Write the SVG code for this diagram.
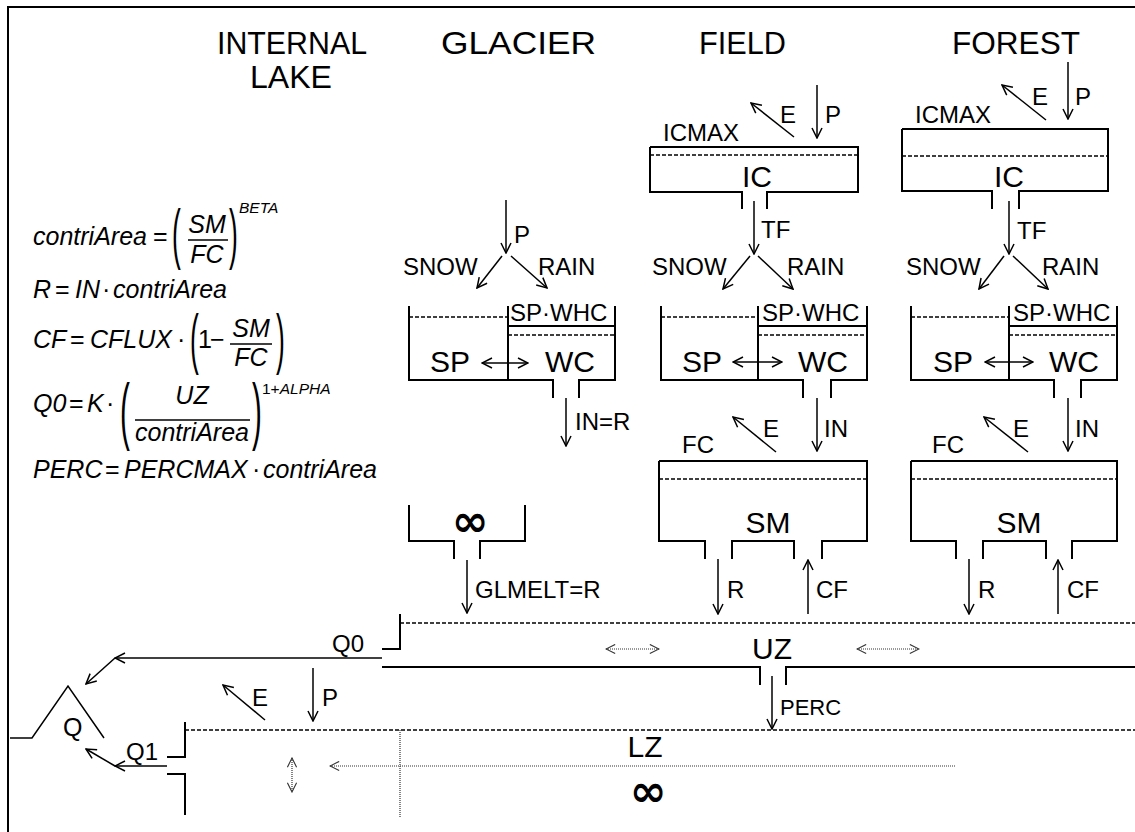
<svg xmlns="http://www.w3.org/2000/svg" width="1135" height="832" viewBox="0 0 1135 832">
<style>
text{font-family:"Liberation Sans",Arial,sans-serif;fill:#000}
.t{font-size:32px}
.l{font-size:24px}
.b{font-size:30px}
.f{font-size:25px}
.i{font-style:italic}
.s{font-size:15.5px}
.bx{stroke:#000;stroke-width:2;fill:none}
.ds{stroke:#000;stroke-width:1.5;stroke-dasharray:4,2;fill:none}
.ln{stroke:#000;stroke-width:1.5;fill:none}
.ar{stroke:#000;stroke-width:1.5;fill:none;marker-end:url(#ah)}
.da{stroke:#000;stroke-width:1.5;fill:none;marker-start:url(#ah);marker-end:url(#ah)}
.dot{stroke:#333;stroke-width:1.2;stroke-dasharray:1,1;fill:none}
.dota{stroke:#333;stroke-width:1.2;stroke-dasharray:1,1;fill:none;marker-end:url(#ahd)}
.dotb{stroke:#333;stroke-width:1.2;stroke-dasharray:1,1;fill:none;marker-start:url(#ahd);marker-end:url(#ahd)}
.inf{font-family:"DejaVu Sans",sans-serif;font-weight:bold;font-size:44px}
</style>
<defs>
<marker id="ah" viewBox="0 0 12 12" refX="11" refY="6" markerWidth="12" markerHeight="12" markerUnits="userSpaceOnUse" orient="auto-start-reverse"><path d="M1,1 L11,6 L1,11" fill="none" stroke="#000" stroke-width="1.5"/></marker>
<marker id="ahd" viewBox="0 0 12 12" refX="11" refY="6" markerWidth="11" markerHeight="11" markerUnits="userSpaceOnUse" orient="auto-start-reverse"><path d="M1,1 L11,6 L1,11" fill="none" stroke="#333" stroke-width="1.2"/></marker>
</defs>
<rect width="1135" height="832" fill="#fff"/>
<path d="M8,832 V7 H1135" stroke="#000" stroke-width="2" fill="none"/>

<g id="titles">
<text class="t" x="217" y="54" textLength="150" lengthAdjust="spacingAndGlyphs">INTERNAL</text>
<text class="t" x="250" y="88" textLength="82" lengthAdjust="spacingAndGlyphs">LAKE</text>
<text class="t" x="441" y="54" textLength="155" lengthAdjust="spacingAndGlyphs">GLACIER</text>
<text class="t" x="699" y="54" textLength="87" lengthAdjust="spacingAndGlyphs">FIELD</text>
<text class="t" x="952" y="54" textLength="128" lengthAdjust="spacingAndGlyphs">FOREST</text>
</g>

<g id="equations">
<text class="f i" x="33" y="245">contriArea</text>
<text class="f" x="153" y="245">=</text>
<text transform="translate(172,256) scale(0.4,1)" style="font-size:66px">(</text>
<text class="f i" x="207" y="233" text-anchor="middle">SM</text>
<line class="ln" x1="188" y1="240" x2="228" y2="240"/>
<text class="f i" x="207" y="263" text-anchor="middle">FC</text>
<text transform="translate(229,256) scale(0.4,1)" style="font-size:66px">)</text>
<text class="s i" x="239" y="213">BETA</text>

<text class="f i" x="33" y="298">R</text>
<text class="f" x="55" y="298">=</text>
<text class="f i" x="75" y="298">IN</text>
<text class="f" x="102" y="298">·</text>
<text class="f i" x="113" y="298">contriArea</text>

<text class="f i" x="33" y="348">CF</text>
<text class="f" x="70" y="348">=</text>
<text class="f i" x="90" y="348">CFLUX</text>
<text class="f" x="177" y="348">·</text>
<text transform="translate(190,361) scale(0.4,1)" style="font-size:66px">(</text>
<text class="f" x="198" y="348">1</text>
<text class="f" x="210" y="348">−</text>
<text class="f i" x="251" y="337" text-anchor="middle">SM</text>
<line class="ln" x1="230" y1="344" x2="272" y2="344"/>
<text class="f i" x="251" y="366" text-anchor="middle">FC</text>
<text transform="translate(276,361) scale(0.4,1)" style="font-size:66px">)</text>

<text class="f i" x="33" y="412">Q0</text>
<text class="f" x="69" y="412">=</text>
<text class="f i" x="87" y="412">K</text>
<text class="f" x="106" y="412">·</text>
<text transform="translate(120,436) scale(0.4,1)" style="font-size:74px">(</text>
<text class="f i" x="192" y="404" text-anchor="middle">UZ</text>
<line class="ln" x1="135" y1="420" x2="250" y2="420"/>
<text class="f i" x="192" y="441" text-anchor="middle">contriArea</text>
<text transform="translate(252,436) scale(0.4,1)" style="font-size:74px">)</text>
<text class="s" x="262" y="394">1+<tspan class="i">ALPHA</tspan></text>

<text class="f i" x="33" y="478">PERC</text>
<text class="f" x="105" y="478">=</text>
<text class="f i" x="124" y="478">PERCMAX</text>
<text class="f" x="252" y="478">·</text>
<text class="f i" x="263" y="478">contriArea</text>
</g>

<g id="glacier-snow">
<path class="bx" d="M409,306 V380 H553 V398 M579,398 V380 H615 V306 M508,306 V380 M508,326 H615"/>
<path class="ds" d="M409,317 H508 M508,335 H615"/>
<text class="l" x="510" y="321">SP·WHC</text>
<text class="b" x="430" y="372">SP</text>
<text class="b" x="545" y="372">WC</text>
</g>
<g id="glacier-ice">
<path class="bx" d="M409,505 V541 H454 V559 M480,559 V541 H525 V505"/>
<text class="inf" x="470" y="536" text-anchor="middle">∞</text>
</g>

<g id="field-ic">
<path class="bx" d="M650,147 H858 V192 H767 V209 M742,209 V192 H650 V147"/>
<path class="ds" d="M650,155 H858"/>
<text class="l" x="663" y="141">ICMAX</text>
<text class="b" x="757" y="187" text-anchor="middle">IC</text>
</g>
<g id="field-snow">
<path class="bx" d="M661,306 V380 H803 V398 M831,398 V380 H867 V306 M758,306 V380 M758,326 H867"/>
<path class="ds" d="M661,317 H758 M758,335 H867"/>
<text class="l" x="762" y="321">SP·WHC</text>
<text class="b" x="682" y="372">SP</text>
<text class="b" x="798" y="372">WC</text>
</g>
<g id="field-sm">
<path class="bx" d="M659,461 H867 V541 H822 V559 M794,559 V541 H732 V559 M705,559 V541 H659 V461"/>
<path class="ds" d="M659,479 H867"/>
<text class="l" x="682" y="453">FC</text>
<text class="b" x="768" y="533" text-anchor="middle">SM</text>
</g>

<g id="forest-ic">
<path class="bx" d="M902,129 H1108 V191 H1019 V209 M992,209 V191 H902 V129"/>
<path class="ds" d="M902,156 H1108"/>
<text class="l" x="915" y="123">ICMAX</text>
<text class="b" x="1009" y="187" text-anchor="middle">IC</text>
</g>
<g id="forest-snow">
<path class="bx" d="M911,306 V380 H1054 V398 M1081,398 V380 H1117 V306 M1009,306 V380 M1009,326 H1117"/>
<path class="ds" d="M911,317 H1009 M1009,335 H1117"/>
<text class="l" x="1013" y="321">SP·WHC</text>
<text class="b" x="933" y="372">SP</text>
<text class="b" x="1049" y="372">WC</text>
</g>
<g id="forest-sm">
<path class="bx" d="M911,461 H1117 V541 H1072 V559 M1046,559 V541 H983 V559 M956,559 V541 H911 V461"/>
<path class="ds" d="M911,479 H1117"/>
<text class="l" x="932" y="453">FC</text>
<text class="b" x="1019" y="533" text-anchor="middle">SM</text>
</g>

<g id="uz">
<path class="bx" d="M382,649 H400 V614 M382,667 H760 V685 M786,685 V667 H1135"/>
<path class="ds" d="M400,623 H1135"/>
<text class="b" x="772" y="659" text-anchor="middle">UZ</text>
</g>
<g id="lz">
<path class="bx" d="M167,757 H185 V722 M167,774 H185 V815"/>
<path class="ds" d="M185,730 H1135"/>
<path class="dot" d="M400,730 V817"/>
<text class="b" x="645" y="757" text-anchor="middle">LZ</text>
<text class="inf" x="648" y="806" text-anchor="middle">∞</text>
</g>
<g id="q">
<path class="ln" d="M10,738 H32 L68,686 L104,738"/>
<text class="f" x="63" y="736">Q</text>
</g>

<g id="connectors">
<line class="ar" x1="506" y1="200" x2="506" y2="253"/>
<line class="ar" x1="502" y1="256" x2="477" y2="288"/>
<line class="ar" x1="511" y1="256" x2="547" y2="288"/>
<line class="da" x1="482" y1="363" x2="528" y2="363"/>
<line class="ar" x1="566" y1="398" x2="566" y2="446"/>
<line class="ar" x1="467" y1="560" x2="467" y2="613"/>
<line class="ar" x1="794" y1="137" x2="751" y2="103"/>
<line class="ar" x1="817" y1="85" x2="817" y2="138"/>
<line class="ar" x1="754" y1="201" x2="754" y2="254"/>
<line class="ar" x1="750" y1="256" x2="723" y2="289"/>
<line class="ar" x1="758" y1="256" x2="793" y2="289"/>
<line class="da" x1="733" y1="362" x2="782" y2="362"/>
<line class="ar" x1="817" y1="398" x2="817" y2="451"/>
<line class="ar" x1="776" y1="452" x2="733" y2="417"/>
<line class="ar" x1="718" y1="559" x2="718" y2="614"/>
<line class="ar" x1="808" y1="614" x2="808" y2="560"/>
<line class="ar" x1="1046" y1="120" x2="1002" y2="85"/>
<line class="ar" x1="1068" y1="62" x2="1068" y2="119"/>
<line class="ar" x1="1009" y1="201" x2="1009" y2="254"/>
<line class="ar" x1="1004" y1="256" x2="979" y2="289"/>
<line class="ar" x1="1013" y1="256" x2="1048" y2="289"/>
<line class="da" x1="985" y1="362" x2="1033" y2="362"/>
<line class="ar" x1="1068" y1="398" x2="1068" y2="451"/>
<line class="ar" x1="1028" y1="452" x2="984" y2="417"/>
<line class="ar" x1="969" y1="559" x2="969" y2="614"/>
<line class="ar" x1="1058" y1="614" x2="1058" y2="560"/>
<line class="ar" x1="382" y1="658" x2="115" y2="658"/>
<line class="ar" x1="115" y1="658" x2="86" y2="684"/>
<line class="ar" x1="167" y1="766" x2="115" y2="766"/>
<line class="ar" x1="115" y1="766" x2="86" y2="749"/>
<line class="ar" x1="772" y1="676" x2="772" y2="729"/>
<line class="ar" x1="265" y1="720" x2="223" y2="685"/>
<line class="ar" x1="313" y1="668" x2="313" y2="721"/>
<line class="dotb" x1="606" y1="649" x2="659" y2="649"/>
<line class="dotb" x1="857" y1="649" x2="919" y2="649"/>
<line class="dota" x1="955" y1="766" x2="330" y2="766"/>
<line class="dotb" x1="292" y1="758" x2="292" y2="792"/>
</g>

<g id="labels">
<text class="l" x="514" y="243">P</text>
<text class="l" x="403" y="275">SNOW</text>
<text class="l" x="538" y="275">RAIN</text>
<text class="l" x="575" y="430">IN=R</text>
<text class="l" x="475" y="598">GLMELT=R</text>
<text class="l" x="780" y="123">E</text>
<text class="l" x="825" y="123">P</text>
<text class="l" x="761" y="238">TF</text>
<text class="l" x="652" y="275">SNOW</text>
<text class="l" x="787" y="275">RAIN</text>
<text class="l" x="824" y="437">IN</text>
<text class="l" x="763" y="437">E</text>
<text class="l" x="727" y="598">R</text>
<text class="l" x="816" y="598">CF</text>
<text class="l" x="1032" y="105">E</text>
<text class="l" x="1075" y="105">P</text>
<text class="l" x="1017" y="239">TF</text>
<text class="l" x="906" y="275">SNOW</text>
<text class="l" x="1042" y="275">RAIN</text>
<text class="l" x="1075" y="437">IN</text>
<text class="l" x="1013" y="437">E</text>
<text class="l" x="978" y="598">R</text>
<text class="l" x="1067" y="598">CF</text>
<text class="l" x="332" y="652">Q0</text>
<text class="l" x="126" y="760">Q1</text>
<text class="l" x="252" y="706">E</text>
<text class="l" x="322" y="706">P</text>
<text x="780" y="715" style="font-size:22px">PERC</text>
</g>
</svg>
